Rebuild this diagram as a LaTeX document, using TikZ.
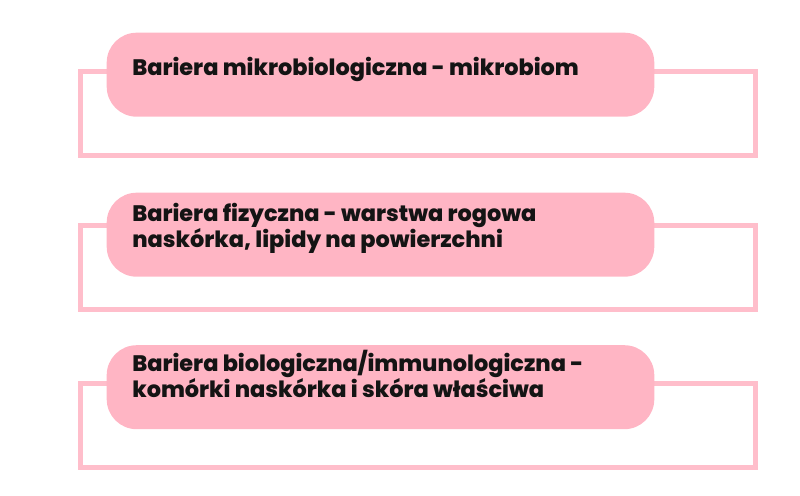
\documentclass[tikz,border=0pt]{standalone}
\usepackage{fontspec}
\setmainfont{Poppins}[BoldFont={Poppins ExtraBold}]
\definecolor{pinkfill}{HTML}{FFB5C4}
\definecolor{pinkline}{HTML}{FFBECB}
\definecolor{inkblack}{HTML}{141414}
\begin{document}
\begin{tikzpicture}[x=0.75pt,y=0.75pt]
                \tikzstyle{every node}+=[inner sep=0pt]
                \tikzstyle{frame}=[draw=pinkline, line width=3.75pt, minimum width=505.9pt, minimum height=63pt]
                \tikzstyle{pill}=[fill=pinkfill, rounded corners=22.5pt, minimum width=410.7pt, minimum height=63pt]
                \tikzstyle{txt}=[anchor=base west, align=left, text=inkblack, font=\bfseries\fontsize{16.8pt}{19.5pt}\selectfont]
                \useasboundingbox (0,0) rectangle (800,-496);
                \node [frame] (f1) at (418.25,-113.5) {};
                \node [pill] (p1) at (380.5,-74.7) {};
                \node [txt] (t1) at (132,-75) {Bariera mikrobiologiczna - mikrobiom};
                \node [frame] (f2) at (418.25,-267.25) {};
                \node [pill] (p2) at (380.5,-234.7) {};
                \node [txt] (t2) at (132,-247.5) {Bariera fizyczna - warstwa rogowa\\naskórka, lipidy na powierzchni};
                \node [frame] (f3) at (418.25,-425.75) {};
                \node [pill] (p3) at (380.5,-387.2) {};
                \node [txt] (t3) at (132,-397.3) {Bariera biologiczna/immunologiczna -\\komórki naskórka i skóra właściwa};
            \end{tikzpicture}
\end{document}
